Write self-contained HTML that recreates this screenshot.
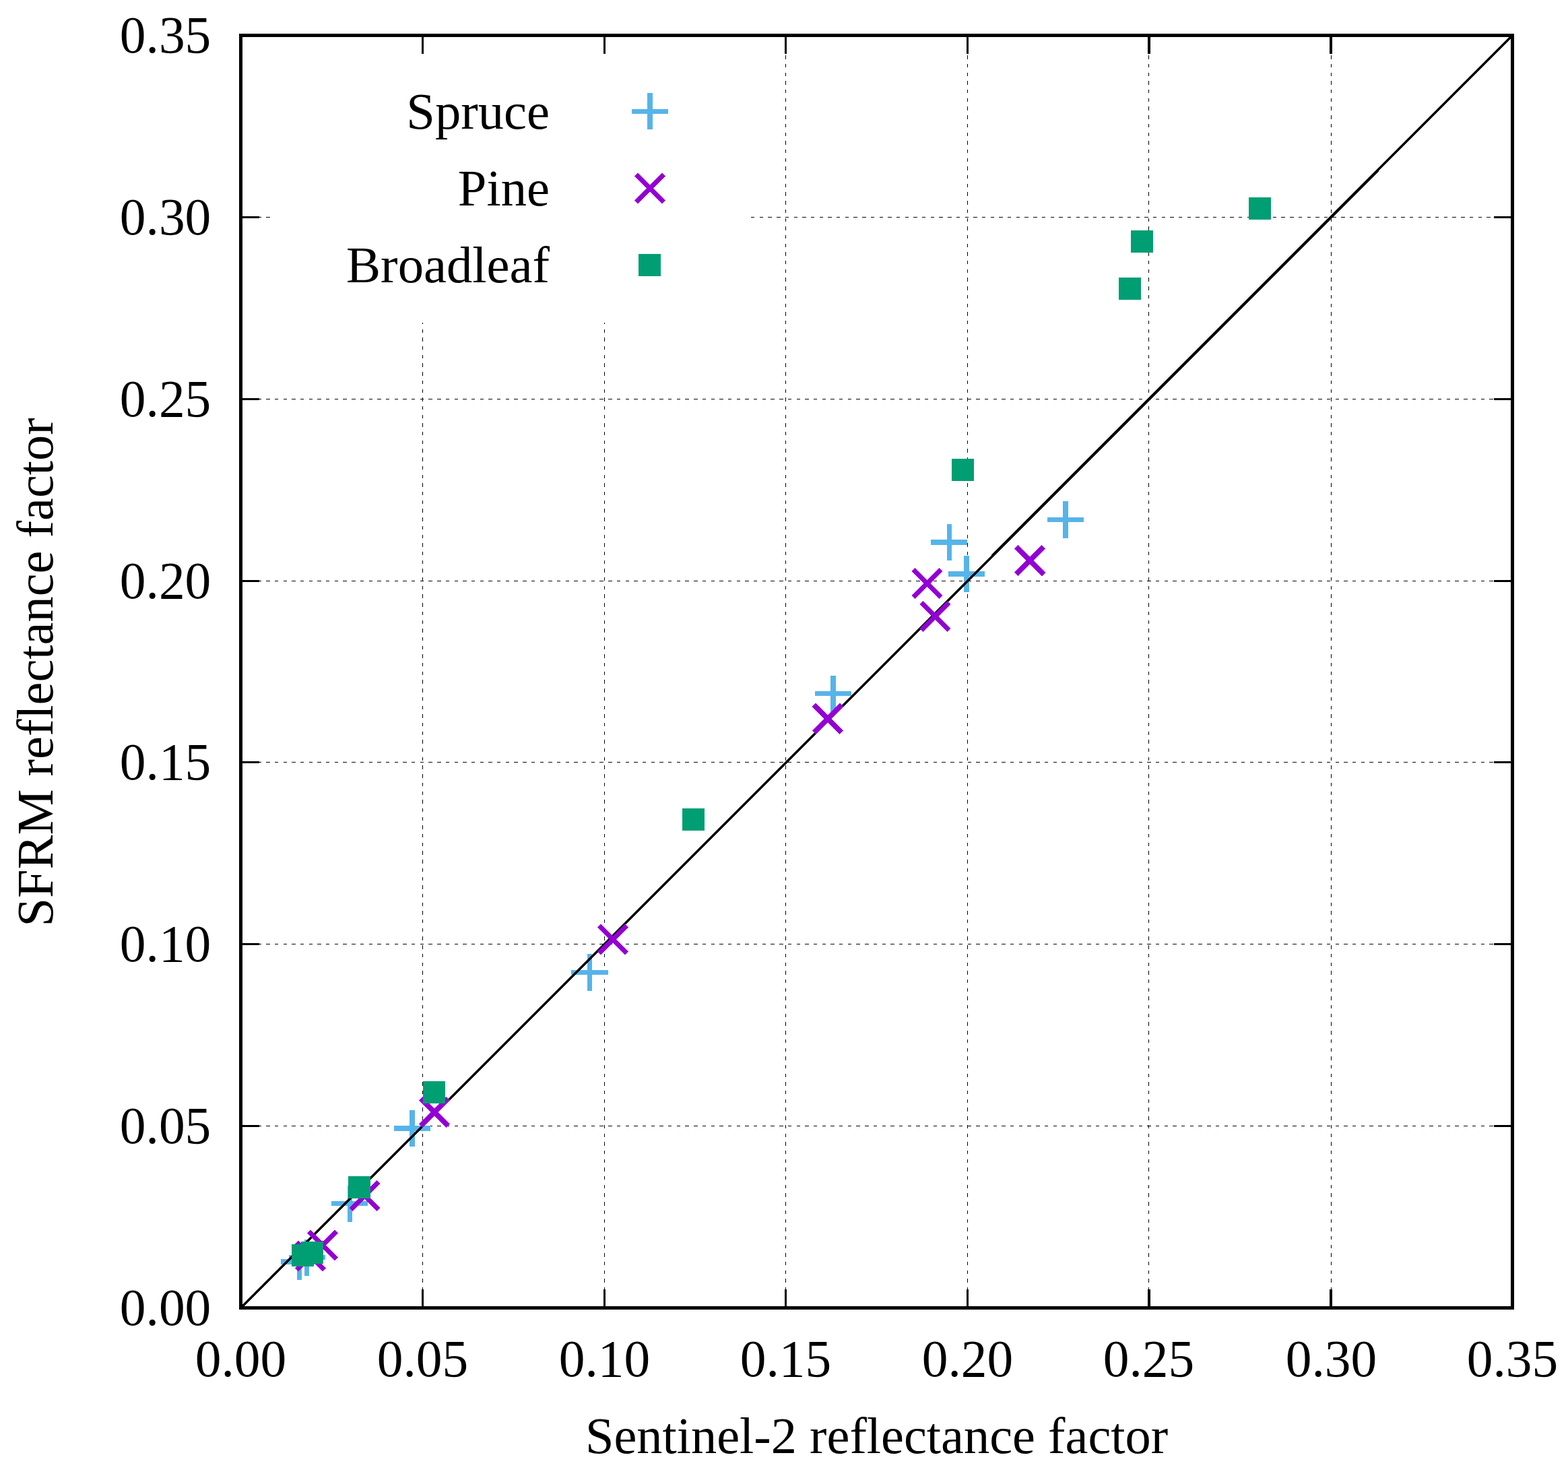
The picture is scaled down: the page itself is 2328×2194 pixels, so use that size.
<!DOCTYPE html>
<html lang="en"><head><meta charset="utf-8"><title>SFRM vs Sentinel-2 reflectance factor</title>
<style>
html,body{margin:0;padding:0;background:#fff;}
body{width:2328px;height:2194px;overflow:hidden;}
svg{display:block;}
text{font-family:"Liberation Serif","DejaVu Serif",serif;fill:#000;font-kerning:none;font-variant-ligatures:none;}
.tick{font-size:77.4px;}
.title{font-size:76.4px;}
.key{font-size:76.6px;}
.grid{stroke:#000;stroke-width:1;stroke-dasharray:5.4 7.3;fill:none;}
.tk{stroke:#000;stroke-width:3.45;fill:none;}
.spruce{stroke:#56b4e9;stroke-width:7.5;fill:none;}
.pine{stroke:#9400d3;stroke-width:7.5;fill:none;}
.broad{fill:#009e73;stroke:none;}
</style></head><body>
<svg width="2328" height="2194" viewBox="0 0 2328 2194" shape-rendering="crispEdges" role="img" aria-label="Scatter plot of SFRM reflectance factor against Sentinel-2 reflectance factor for Spruce, Pine and Broadleaf">
<rect x="0" y="0" width="2328" height="2194" fill="#fff"/>
<g class="grid">
<path d="M357 1671.5H2245.5"/>
<path d="M357 1401.5H2245.5"/>
<path d="M357 1131.5H2245.5"/>
<path d="M357 862.5H2245.5"/>
<path d="M357 592.5H2245.5"/>
<path d="M357 322.5H403"/>
<path d="M1115 322.5H2245.5"/>
<path d="M627.5 1941.9V478.6"/>
<path d="M897.5 1941.9V478.6"/>
<path d="M1166.5 1941.9V52.5"/>
<path d="M1436.5 1941.9V52.5"/>
<path d="M1705.5 1941.9V52.5"/>
<path d="M1976.5 1941.9V52.5"/>
</g>
<g class="tk">
<path stroke-width="3" d="M627.5 1941.5v-27.5 M627.5 52.5v27.5"/>
<path stroke-width="3" d="M897.5 1941.5v-27.5 M897.5 52.5v27.5"/>
<path stroke-width="3" d="M1166.5 1941.5v-27.5 M1166.5 52.5v27.5"/>
<path stroke-width="3" d="M1436.5 1941.5v-27.5 M1436.5 52.5v27.5"/>
<path stroke-width="4" d="M1706 1941.5v-27.5 M1706 52.5v27.5"/>
<path stroke-width="4" d="M1976 1941.5v-27.5 M1976 52.5v27.5"/>
<path stroke-width="3" d="M357.5 1671.5h27.5 M2245.5 1671.5h-27.5"/>
<path stroke-width="3" d="M357.5 1401.5h27.5 M2245.5 1401.5h-27.5"/>
<path stroke-width="3" d="M357.5 1131.5h27.5 M2245.5 1131.5h-27.5"/>
<path stroke-width="3" d="M357.5 862.5h27.5 M2245.5 862.5h-27.5"/>
<path stroke-width="3" d="M357.5 592.5h27.5 M2245.5 592.5h-27.5"/>
<path stroke-width="3" d="M357.5 322.5h27.5 M2245.5 322.5h-27.5"/>
</g>
<g fill="#56b4e9">
<path d="M961 138h8v54h-8z M938 162h54v7h-54z"/>
<path d="M441 1846h7v54h-7z M417 1869h54v8h-54z"/>
<path d="M452 1840h7v54h-7z M429 1863h54v7h-54z"/>
<path d="M516 1760h7v54h-7z M492 1783h54v7h-54z"/>
<path d="M608 1648h8v54h-8z M585 1671h54v8h-54z"/>
<path d="M872 1416h7v55h-7z M848 1440h55v7h-55z"/>
<path d="M1233 1003h8v54h-8z M1210 1026h54v7h-54z"/>
<path d="M1406 778h7v54h-7z M1382 801h54v8h-54z"/>
<path d="M1431 825h8v54h-8z M1408 848h54v8h-54z"/>
<path d="M1578 744h8v55h-8z M1555 768h54v7h-54z"/>
</g>
<path d="M357.75 1941.5L2245.75 52.5" stroke="#000" stroke-width="3.75" fill="none"/>
<g class="pine">
<path d="M944.55 259.05L985.45 299.95 M944.55 299.95L985.45 259.05"/>
<path d="M440.55 1843.95L481.45 1884.85 M440.55 1884.85L481.45 1843.95"/>
<path d="M458.45 1828.15L499.35 1869.05 M458.45 1869.05L499.35 1828.15"/>
<path d="M521.05 1754.45L561.95 1795.35 M521.05 1795.35L561.95 1754.45"/>
<path d="M624.55 1630.55L665.45 1671.45 M624.55 1671.45L665.45 1630.55"/>
<path d="M889.55 1374.15L930.45 1415.05 M889.55 1415.05L930.45 1374.15"/>
<path d="M1208.55 1046.45L1249.45 1087.35 M1208.55 1087.35L1249.45 1046.45"/>
<path d="M1356.05 845.55L1396.95 886.45 M1356.05 886.45L1396.95 845.55"/>
<path d="M1368.15 894.55L1409.05 935.45 M1368.15 935.45L1409.05 894.55"/>
<path d="M1508.65 811.65L1549.55 852.55 M1508.65 852.55L1549.55 811.65"/>
</g>
<g class="broad">
<rect x="948" y="377" width="33" height="33"/>
<rect x="433" y="1847" width="33" height="33"/>
<rect x="447" y="1843" width="33" height="33"/>
<rect x="517" y="1746" width="33" height="33"/>
<rect x="628" y="1605" width="33" height="33"/>
<rect x="1013" y="1200" width="33" height="33"/>
<rect x="1413" y="681" width="33" height="33"/>
<rect x="1661" y="412" width="33" height="33"/>
<rect x="1679" y="342" width="33" height="33"/>
<rect x="1854" y="293" width="33" height="33"/>
</g>
<rect x="357.5" y="52.5" width="1888" height="1889" fill="none" stroke="#000" stroke-width="5"/>
<g class="tick" text-anchor="end">
<text x="313.3" y="1967">0.00</text>
<text x="313.3" y="1697">0.05</text>
<text x="313.3" y="1427">0.10</text>
<text x="313.3" y="1157">0.15</text>
<text x="313.3" y="888">0.20</text>
<text x="313.3" y="618">0.25</text>
<text x="313.3" y="348">0.30</text>
<text x="313.3" y="78">0.35</text>
</g>
<g class="tick" text-anchor="middle">
<text x="357.5" y="2043.3">0.00</text>
<text x="627.5" y="2043.3">0.05</text>
<text x="897.5" y="2043.3">0.10</text>
<text x="1166.5" y="2043.3">0.15</text>
<text x="1436.5" y="2043.3">0.20</text>
<text x="1705.5" y="2043.3">0.25</text>
<text x="1976.5" y="2043.3">0.30</text>
<text x="2245.5" y="2043.3">0.35</text>
</g>
<g class="key" text-anchor="end">
<text x="816" y="190.7">Spruce</text>
<text x="816" y="304.7">Pine</text>
<text x="816" y="418.7">Broadleaf</text>
</g>
<text class="title" text-anchor="middle" x="1301.6" y="2157">Sentinel-2 reflectance factor</text>
<text class="title" text-anchor="middle" transform="translate(78 997.85) rotate(-90)">SFRM reflectance factor</text>
</svg>
</body></html>
